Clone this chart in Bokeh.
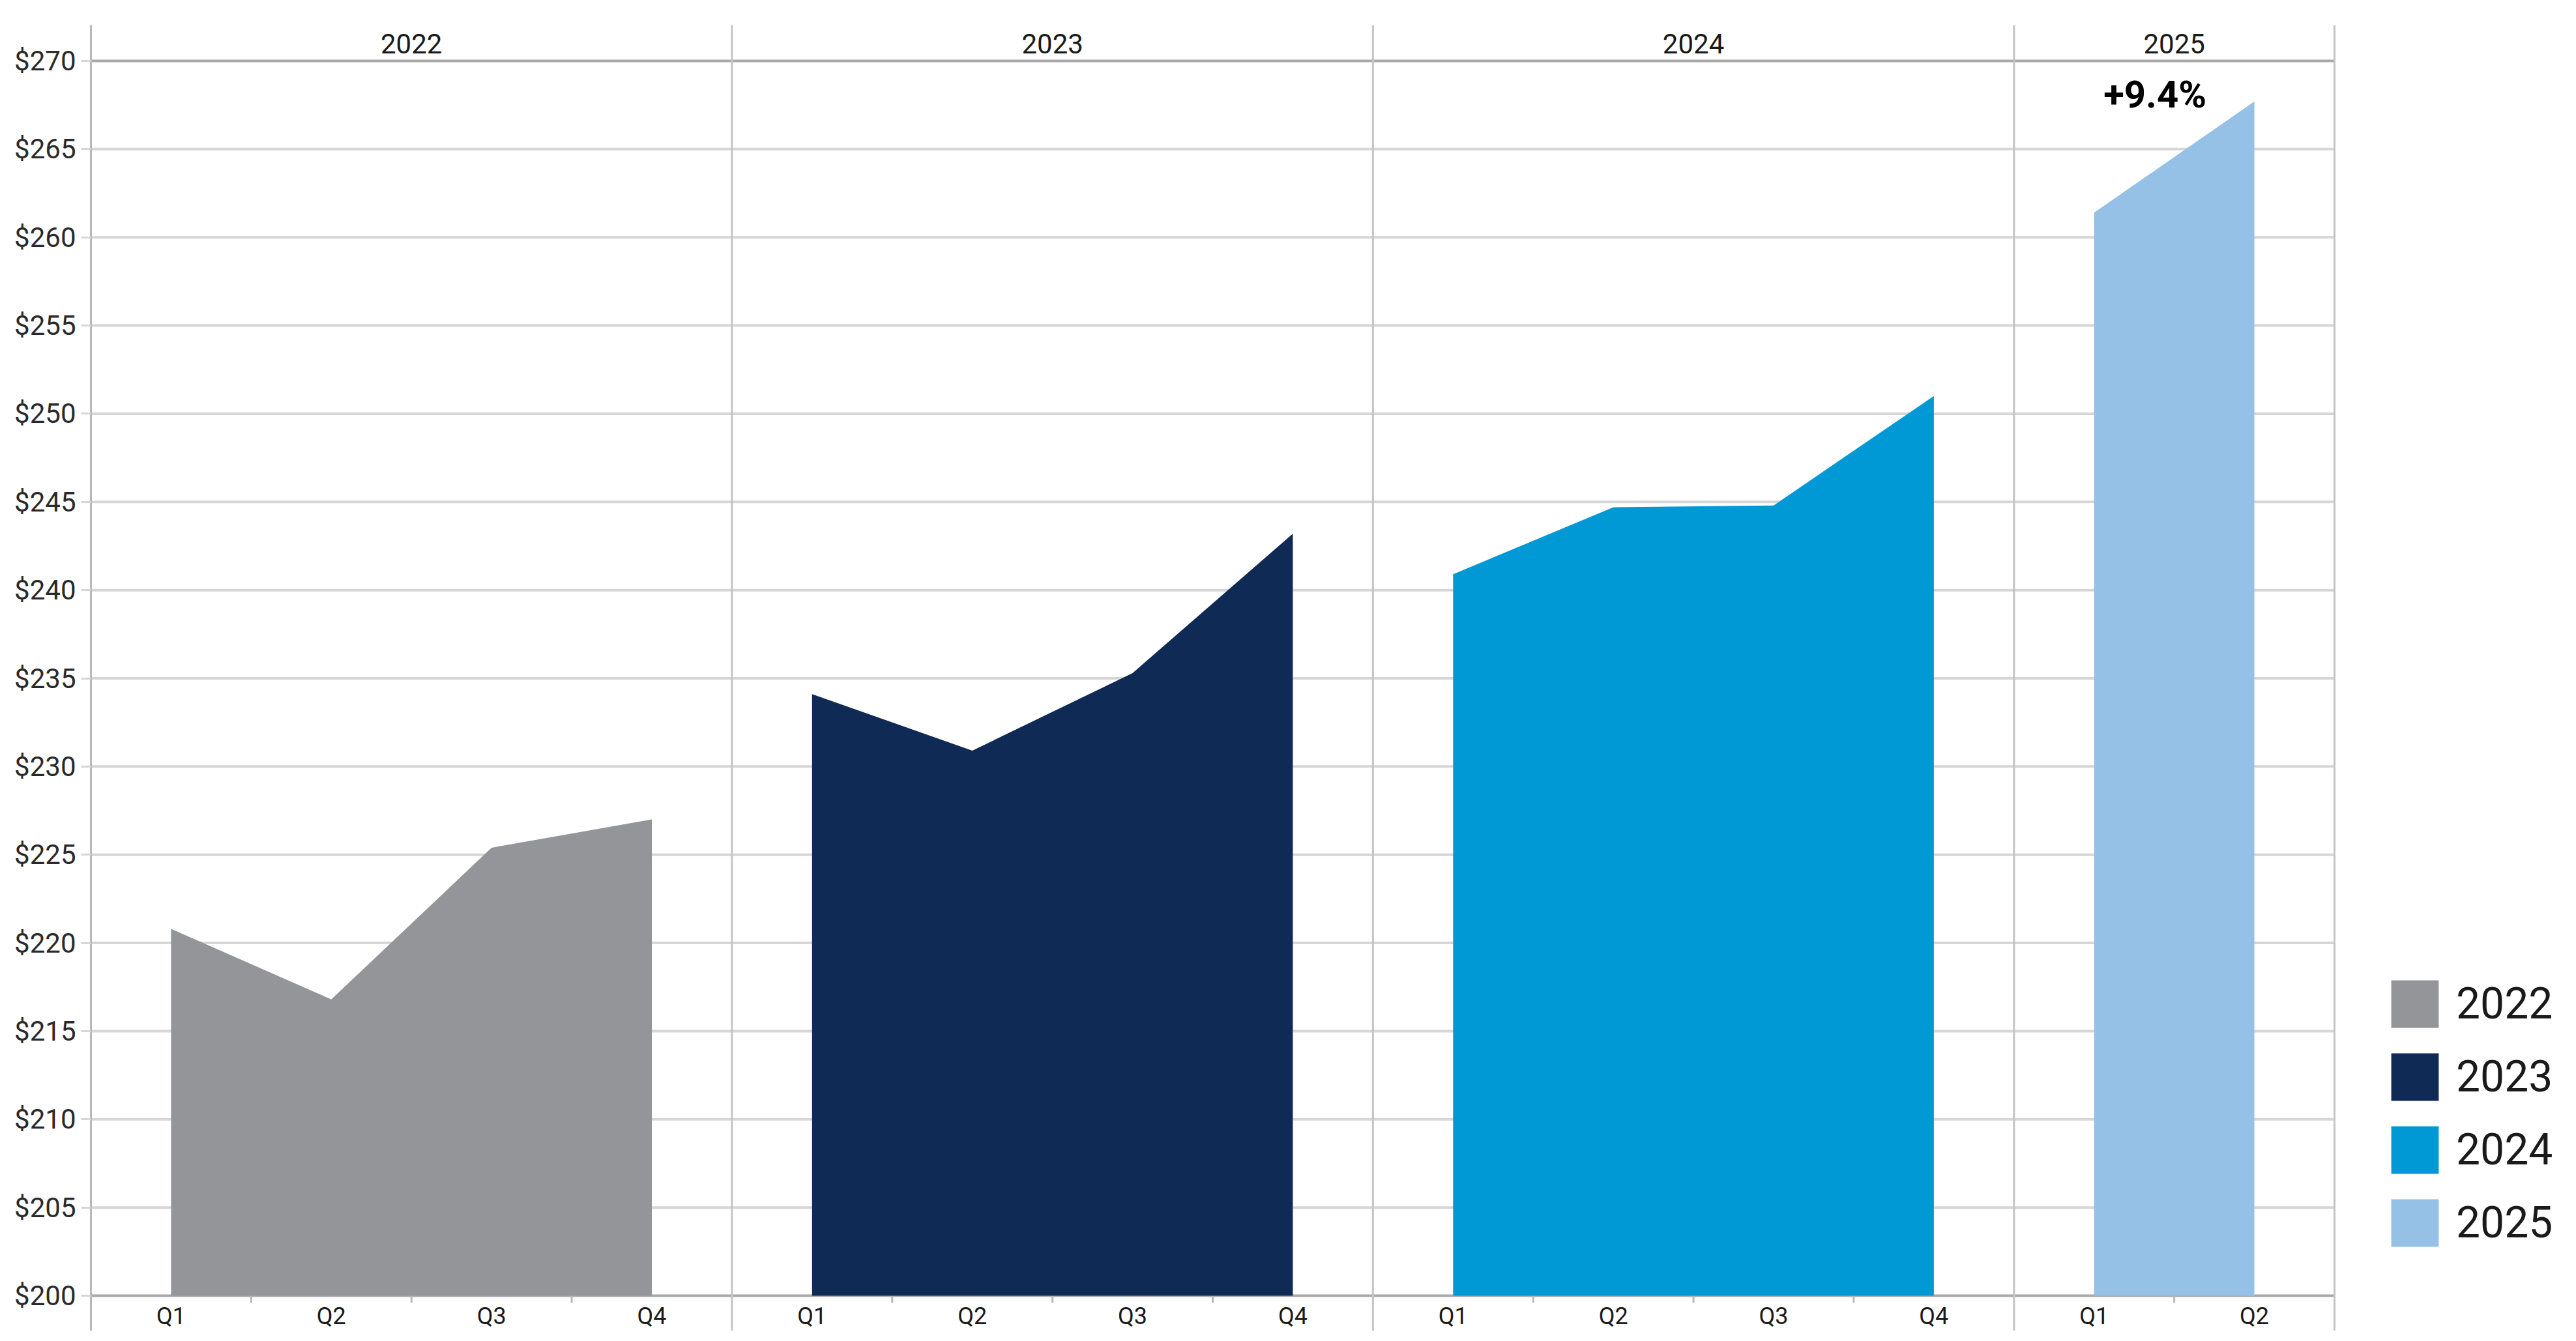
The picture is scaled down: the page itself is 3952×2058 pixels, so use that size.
from bokeh.plotting import figure
from bokeh.models import Range1d, FixedTicker, Span, Legend, LegendItem
from bokeh.core.properties import value
from bokeh.embed import file_html
from bokeh.resources import INLINE

# ---------------- data ----------------
years = ["2022", "2023", "2024", "2025"]
quarters = ["Q1", "Q2", "Q3", "Q4"]
values_2022 = [220.8, 216.8, 225.4, 227.0]
values_2023 = [234.1, 230.9, 235.3, 243.2]
values_2024 = [240.9, 244.7, 244.8, 251.0]
values_2025 = [261.4, 267.7]
series = [values_2022, values_2023, values_2024, values_2025]
colors = ["#939598", "#0f2a54", "#0099d6", "#94c1e5"]
y_ticks = list(range(200, 275, 5))
y_tick_labels = ["$%d" % t for t in y_ticks]
growth_label = "+9.4%"

# ---------------- layout ----------------
W, H = 3936, 2042
ML, MT = 139, 38
frame_w = W - ML
frame_h = H - MT
n_q = sum(len(s) for s in series)          # 14 quarter slots
PX_Q = 3442 / n_q                          # px per quarter
PX_Y = 1895 / 70.0                         # px per $1
BASE_PX = 1988                             # pixel row of $200
x_end = frame_w / PX_Q
y_lo = 200 - (H - BASE_PX) / PX_Y
y_hi = y_lo + frame_h / PX_Y

FONT = "Roboto"
TXT = "#1a1a1a"
GRID = "#d6d6d6"
DARK = "#a9a9a9"

p = figure(width=W, height=H, output_backend="svg", toolbar_location=None,
           x_range=Range1d(0, x_end), y_range=Range1d(y_lo, y_hi),
           x_axis_location=None, title=None,
           min_border_left=ML, min_border_top=MT, min_border_right=0, min_border_bottom=0)
p.outline_line_color = None
p.background_fill_color = "white"
p.border_fill_color = "white"
p.xgrid.visible = False
p.ygrid.visible = False

tk = FixedTicker(ticks=y_ticks, minor_ticks=[])
p.yaxis.ticker = tk
p.yaxis.major_label_overrides = {t: l for t, l in zip(y_ticks, y_tick_labels)}
p.yaxis.major_label_text_font = FONT
p.yaxis.major_label_text_font_size = "42px"
p.yaxis.major_label_text_color = "#2a2a2a"
p.yaxis.major_label_standoff = 8
p.yaxis.major_tick_out = 15
p.yaxis.major_tick_in = 0
p.yaxis.minor_tick_out = 0
p.yaxis.minor_tick_in = 0
p.yaxis.major_tick_line_color = GRID
p.yaxis.major_tick_line_width = 3
p.yaxis.axis_line_color = "#b8b8b8"
p.yaxis.axis_line_width = 3

# horizontal grid lines limited to the data blocks
inner = y_ticks[1:-1]
p.segment(x0=[0] * len(inner), y0=inner, x1=[n_q] * len(inner), y1=inner,
          line_color=GRID, line_width=4)

# year boundary lines
offsets = []
acc = 0
for s in series:
    offsets.append(acc)
    acc += len(s)
for b in offsets[1:] + [n_q]:
    p.add_layout(Span(location=b, dimension="height", line_color="#c4c4c4", line_width=3))

# header and baseline lines
p.segment(x0=[0, 0], y0=[y_ticks[-1], y_ticks[0]], x1=[n_q, n_q], y1=[y_ticks[-1], y_ticks[0]],
          line_color=DARK, line_width=4)

# quarter ticks below baseline
minor_x = [o + k for o, s in zip(offsets, series) for k in range(1, len(s))]
p.segment(x0=minor_x, y0=[200] * len(minor_x), x1=minor_x, y1=[200 - 11 / PX_Y] * len(minor_x),
          line_color="#b8b8b8", line_width=3)

# areas
items = []
for yr, s, o, c in zip(years, series, offsets, colors):
    xs = [o + i + 0.5 for i in range(len(s))]
    r = p.varea(x=xs, y1=[200] * len(s), y2=s, fill_color=c, fill_alpha=1.0)
    items.append(LegendItem(label=yr, renderers=[r]))

# quarter labels
qx = [o + i + 0.5 for o, s in zip(offsets, series) for i in range(len(s))]
ql = [quarters[i] for s in series for i in range(len(s))]
p.text(x=qx, y=[200 - 31 / PX_Y] * len(qx), text=ql, text_font=value(FONT),
       text_font_size="36px", text_color=TXT, text_align="center", text_baseline="middle")

# year header labels
yx = [o + len(s) / 2 for o, s in zip(offsets, series)]
p.text(x=yx, y=[270 + 27 / PX_Y] * len(yx), text=years, text_font=value(FONT),
       text_font_size="42px", text_color=TXT, text_align="center", text_baseline="middle")

# growth annotation
p.text(x=[offsets[-1] + 0.88], y=[270 - 51 / PX_Y], text=[growth_label], text_font=value(FONT),
       text_font_size="58px", text_font_style="bold", text_color="#000000",
       text_align="center", text_baseline="middle")

legend = Legend(items=items, location=(3520, int(H - 1922)), orientation="vertical",
                glyph_width=91, glyph_height=91, label_height=91, spacing=21,
                padding=0, margin=0, border_line_color=None, background_fill_alpha=0,
                label_text_font=FONT, label_text_font_size="66px", label_text_color=TXT,
                label_standoff=18, label_text_baseline="middle")
p.add_layout(legend)

open("out.html", "w").write(file_html(p, INLINE))
